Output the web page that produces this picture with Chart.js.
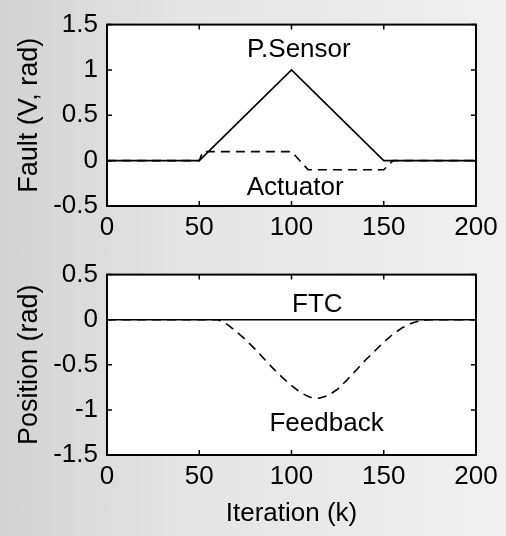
<!DOCTYPE html>
<html>
<head>
<meta charset="utf-8">
<script src="https://cdn.jsdelivr.net/npm/chart.js@4.4.0/dist/chart.umd.min.js"></script>
<style>
  html, body { margin:0; padding:0; }
  body {
    width:506px; height:536px; position:relative; overflow:hidden;
    background: linear-gradient(90deg, #d2d2d2 0%, #e4e4e4 35%, #f0f0f0 100%);
  }
  canvas { position:absolute; left:0; }
  #faultChart { top:0; }
  #posChart { top:250px; }
</style>
</head>
<body>
<canvas id="faultChart" width="506" height="250"></canvas>
<canvas id="posChart" width="506" height="286"></canvas>
<script>
/* ---------- data ---------- */
const xTicks = [0, 50, 100, 150, 200];
const faultTicks = [-0.5, 0, 0.5, 1, 1.5];
const posTicks = [-1.5, -1, -0.5, 0, 0.5];

// top: faults
const sensorK = [0, 50, 100, 150, 200];
const sensorV = [0, 0, 1, 0, 0];
const actuatorK = [0, 50, 52, 100, 109, 150, 155, 200];
const actuatorV = [0, 0, 0.1, 0.1, -0.1, -0.1, 0, 0];

// bottom: position
const ftcK = [0, 200];
const ftcV = [0, 0];
const feedbackK = [0, 60, 65, 70, 75, 80, 85, 90, 95, 100, 105, 110, 115, 120, 125, 130, 135, 140, 145, 150, 155, 160, 165, 170, 175, 200];
const feedbackV = [0, 0, -0.05, -0.13, -0.22, -0.32, -0.43, -0.54, -0.64, -0.73, -0.81, -0.86, -0.87, -0.84, -0.77, -0.67, -0.56, -0.45, -0.35, -0.25, -0.16, -0.09, -0.04, -0.01, 0, 0];

// text labels placed at data coords
const faultNotes = [{text:"P.Sensor", k:104, v:1.22}, {text:"Actuator", k:102, v:-0.3}];
const posNotes = [{text:"FTC", k:114, v:0.16}, {text:"Feedback", k:119, v:-1.15}];

const FONT = "'Liberation Sans', Arial, sans-serif";
const INK = "#000";

const toPts = (xs, ys) => xs.map((x, i) => ({x, y: ys[i]}));

/* ---------- plugins ---------- */
// MATLAB style box with inward ticks
const boxTicks = {
  id: "boxTicks",
  afterDraw(c) {
    const {ctx, chartArea: a, scales} = c;
    const g = ctx;
    g.save();
    g.strokeStyle = INK;
    g.lineWidth = 2;
    g.strokeRect(a.left, a.top, a.right - a.left, a.bottom - a.top);
    g.lineWidth = 1.5;
    const len = 5;
    scales.x.ticks.forEach(t => {
      const px = scales.x.getPixelForValue(t.value);
      g.beginPath();
      g.moveTo(px, a.bottom); g.lineTo(px, a.bottom - len);
      g.moveTo(px, a.top); g.lineTo(px, a.top + len);
      g.stroke();
    });
    scales.y.ticks.forEach(t => {
      const py = scales.y.getPixelForValue(t.value);
      g.beginPath();
      g.moveTo(a.left, py); g.lineTo(a.left + len, py);
      g.moveTo(a.right, py); g.lineTo(a.right - len, py);
      g.stroke();
    });
    g.restore();
  }
};

// white axes background
const plotBg = {
  id: "plotBg",
  beforeDraw(c) {
    const {ctx, chartArea: a} = c;
    ctx.save();
    ctx.fillStyle = "#fff";
    ctx.fillRect(a.left, a.top, a.right - a.left, a.bottom - a.top);
    ctx.restore();
  }
};

// in-plot text labels
const notes = {
  id: "notes",
  afterDatasetsDraw(c, args, opts) {
    const {ctx, scales} = c;
    ctx.save();
    ctx.fillStyle = INK;
    ctx.font = "26px " + FONT;
    ctx.textAlign = "center";
    ctx.textBaseline = "middle";
    (opts.items || []).forEach(n => {
      ctx.fillText(n.text, scales.x.getPixelForValue(n.k), scales.y.getPixelForValue(n.v));
    });
    ctx.restore();
  }
};

/* ---------- chart factory ---------- */
function makeChart(id, datasets, yTicks, yTitle, xTitle, noteItems, xHeight) {
  const yMin = yTicks[0], yMax = yTicks[yTicks.length - 1];
  return new Chart(document.getElementById(id), {
    type: "line",
    data: { datasets },
    options: {
      responsive: false,
      animation: false,
      layout: { padding: { top: 19, right: 30, left: 0, bottom: 0 } },
      elements: { point: { radius: 0 }, line: { tension: 0 } },
      plugins: {
        legend: { display: false },
        tooltip: { enabled: false },
        notes: { items: noteItems }
      },
      scales: {
        x: {
          type: "linear", min: 0, max: 200,
          afterBuildTicks: s => { s.ticks = xTicks.map(v => ({value: v})); },
          afterFit: s => { s.height = xHeight; },
          grid: { display: false, drawTicks: false },
          border: { display: false },
          ticks: { color: INK, font: { family: FONT, size: 26 }, padding: 6, maxRotation: 0,
                   callback: v => String(v) },
          title: {
            display: !!xTitle, text: xTitle, color: INK,
            font: { family: FONT, size: 26 }, padding: { top: 0, bottom: 7 }
          }
        },
        y: {
          type: "linear", min: yMin, max: yMax,
          afterBuildTicks: s => { s.ticks = yTicks.map(v => ({value: v})); },
          afterFit: s => { s.width = 107; },
          grid: { display: false, drawTicks: false },
          border: { display: false },
          ticks: { color: INK, font: { family: FONT, size: 26 }, padding: 9,
                   callback: v => String(v) },
          title: {
            display: true, text: yTitle, color: INK,
            font: { family: FONT, size: 27 }, padding: { top: 13, bottom: 0 }
          }
        }
      }
    },
    plugins: [plotBg, boxTicks, notes]
  });
}

const solid = (pts) => ({ data: pts, borderColor: INK, borderWidth: 1.6, fill: false });
const dashed = (pts) => ({ data: pts, borderColor: INK, borderWidth: 1.6, borderDash: [9, 6], fill: false });

makeChart("faultChart",
  [solid(toPts(sensorK, sensorV)), dashed(toPts(actuatorK, actuatorV))],
  faultTicks, "Fault (V, rad)", "", faultNotes, 44);

makeChart("posChart",
  [solid(toPts(ftcK, ftcV)), dashed(toPts(feedbackK, feedbackV))],
  posTicks, "Position (rad)", "Iteration (k)", posNotes, 81);
</script>
</body>
</html>
